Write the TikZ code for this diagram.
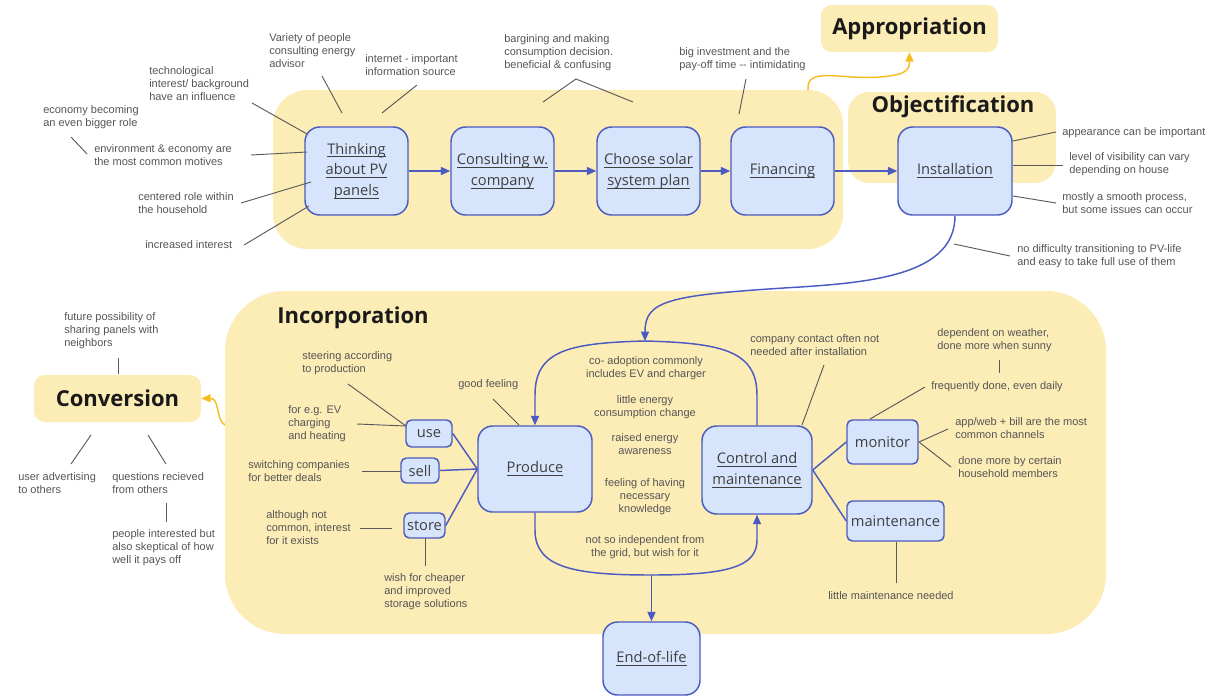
\documentclass[tikz,border=0pt]{standalone}
\usepackage{fontspec}
\setmainfont{Liberation Sans}
\newfontfamily\boxfont{Open Sans}
\usetikzlibrary{arrows.meta}

\definecolor{grpfill}{RGB}{252,236,182}
\definecolor{boxfill}{RGB}{214,228,252}
\definecolor{boxline}{RGB}{76,91,192}
\definecolor{boxtext}{RGB}{64,64,64}
\definecolor{hdrtext}{RGB}{26,26,26}
\definecolor{notetext}{RGB}{85,85,85}
\definecolor{noteline}{RGB}{90,90,90}
\definecolor{goldarrow}{RGB}{245,190,30}

% underlined stage label, rule slightly below the baseline
\newcommand{\lbl}[1]{\setbox0\hbox{#1}\leavevmode\rlap{\rule[-2.6pt]{\wd0}{0.75pt}}\box0}

\begin{document}
\begin{tikzpicture}[x=0.75pt,y=-0.75pt,
  sz/.style 2 args={minimum width=#1*0.75pt, minimum height=#2*0.75pt},
  grp/.style={fill=grpfill, draw=none, rounded corners=#1, inner sep=0pt},
  hdr/.style={font=\boxfont\bfseries\fontsize{16.5}{19}\selectfont, text=hdrtext, inner sep=0pt},
  stage/.style={draw=boxline, fill=boxfill, line width=1.1pt, rounded corners=11pt,
    align=center, font=\boxfont\fontsize{11}{15.6}\selectfont, text=boxtext, inner sep=0pt},
  sub/.style={stage, rounded corners=4pt},
  flow/.style={draw=boxline, line width=1.1pt, -{Triangle[length=7pt,width=6pt]}},
  plain/.style={draw=boxline, line width=1.1pt},
  gold/.style={draw=goldarrow, line width=1.1pt, -{Triangle[length=7pt,width=6pt]}},
  note/.style={font=\fontsize{8.25}{9.75}\selectfont, text=notetext, align=left, inner sep=0pt, anchor=west},
  mid/.style={note, align=center, anchor=center},
  lk/.style={draw=noteline, line width=0.7pt}]

\useasboundingbox (0,0) rectangle (1215,697);

% ---------- phase backgrounds ----------
\node[grp=26pt, sz={570}{159}] (initG) at (558,169.5) {};
\node[grp=16pt, sz={208}{91}] (objG) at (952,137.5) {};
\node[grp=45pt, sz={881}{343}] (incG) at (665.5,462.5) {};
\node[grp=8pt, sz={177}{47}, hdr] (appr) at (909.5,28.5) {Appropriation};
\node[grp=8pt, sz={167}{47}, hdr] (conv) at (117.5,398.5) {Conversion};
\node[hdr] (objT) at (953,107) {Objectification};
\node[hdr] (incT) at (353,318) {Incorporation};

% ---------- phase transitions ----------
\coordinate (apprStart) at (808,90);
\draw[gold] (apprStart) .. controls (806,66) and (840,80) .. (880,77)
  .. controls (906,75) and (909.5,70) .. (appr.south);
\coordinate (convStart) at (225,425);
\draw[gold] (convStart) .. controls (216,421) and (220,398) .. (conv.east);

% ---------- stages ----------
\node[stage, sz={103}{88}] (think) at (356.5,171) {\lbl{Thinking}\\\lbl{about PV}\\\lbl{panels}};
\node[stage, sz={103}{88}] (cons) at (502.5,171) {\lbl{Consulting w.}\\\lbl{company}};
\node[stage, sz={103}{88}] (choose) at (648.5,171) {\lbl{Choose solar}\\\lbl{system plan}};
\node[stage, sz={103}{88}] (fin) at (782.5,171) {\lbl{Financing}};
\node[stage, sz={114}{88}] (inst) at (955,171) {\lbl{Installation}};
\node[stage, sz={114}{86}] (prod) at (535,469) {\lbl{Produce}};
\node[stage, sz={110}{88}] (ctrl) at (757,470) {\lbl{Control and}\\\lbl{maintenance}};
\node[stage, sz={97}{73}] (eol) at (651.5,658.5) {\lbl{End-of-life}};

\node[sub, sz={46}{27}] (use) at (429,433.5) {use};
\node[sub, sz={38}{25}] (sell) at (420,470.5) {sell};
\node[sub, sz={41}{25}] (store) at (424.5,525.5) {store};
\node[sub, sz={71}{44}] (mon) at (882.5,442) {monitor};
\node[sub, sz={97}{40}] (maint) at (895.5,521) {maintenance};

% ---------- flow ----------
\draw[flow] (think) -- (cons);
\draw[flow] (cons) -- (choose);
\draw[flow] (choose) -- (fin);
\draw[flow] (fin) -- (inst);

\coordinate (loopTop) at (645,341);
\coordinate (loopBot) at (651.5,575);
\draw[flow] (inst.south) .. controls (955,272) and (880,282) .. (800,287)
  .. controls (668,295) and (645,300) .. (loopTop);
\draw[flow] (ctrl.north) -- (757,395) .. controls (757,350) and (720,343) .. (loopTop)
  .. controls (570,343) and (535,350) .. (535,395) -- (prod.north);
\draw[flow] (prod.south) -- (535,530) .. controls (535,568) and (575,575) .. (loopBot)
  .. controls (730,575) and (757,566) .. (757,540) -- (ctrl.south);
\draw[flow] (loopBot) -- (eol.north);

\draw[plain] (use.east) -- (prod.west);
\draw[plain] (sell.east) -- (prod.west);
\draw[plain] (store.east) -- (prod.west);
\draw[plain] (ctrl.east) -- (mon.west);
\draw[plain] (ctrl.east) -- (maint.west);

% ---------- notes: thinking about PV ----------
\node[note] (n1) at (269,51) {Variety of people\\consulting energy\\advisor};
\draw[lk] (322,76) -- (342,113);
\node[note] (n2) at (149,84) {technological\\interest/ background\\have an influence};
\draw[lk] (252,103) -- (307,134);
\node[note] (n3) at (365,65.5) {internet - important\\information source};
\draw[lk] (417,85) -- (382,113);
\node[note] (n4) at (43,117.5) {economy becoming\\an even bigger role};
\draw[lk] (71,137) -- (87,154);
\node[note] (n5) at (94,155) {environment \& economy are\\the most common motives};
\draw[lk] (251,155) -- (307,152);
\node[note] (n6) at (138,203.5) {centered role within\\the household};
\draw[lk] (241,203) -- (311,182);
\node[note] (n7) at (145,245) {increased interest};
\draw[lk] (244,245) -- (309,206);

% ---------- notes: consulting, plan, financing ----------
\node[note] (n8) at (504,52.5) {bargining and making\\consumption decision.\\beneficial \& confusing};
\draw[lk] (543,102) -- (576,79) -- (633,102);
\node[note] (n9) at (679,59.5) {big investment and the\\pay-off time -{}- intimidating};
\draw[lk] (746,79) -- (739,114);

% ---------- notes: installation ----------
\node[note] (n10) at (1062,133) {appearance can be important};
\draw[lk] (1013,141) -- (1056,132);
\node[note] (n11) at (1069,164.5) {level of visibility can vary\\depending on house};
\draw[lk] (1013,165) -- (1063,165);
\node[note] (n12) at (1062,203.5) {mostly a smooth process,\\but some issues can occur};
\draw[lk] (1013,196) -- (1056,203);
\node[note] (n13) at (1017,256.5) {no difficulty transitioning to PV-life\\and easy to take full use of them};
\draw[lk] (954,244) -- (1010,256);

% ---------- notes: conversion ----------
\node[note] (n14) at (64,331) {future possibility of\\sharing panels with\\neighbors};
\draw[lk] (118,358) -- (118,374);
\node[note] (n15) at (18,483.5) {user advertising\\to others};
\draw[lk] (91,435) -- (71,464);
\node[note] (n16) at (112,483.5) {questions recieved\\from others};
\draw[lk] (148,435) -- (166,464);
\node[note] (n17) at (112,548) {people interested but\\also skeptical of how\\well it pays off};
\draw[lk] (166,503) -- (166,522);

% ---------- notes: use / sell / store ----------
\node[note] (n18) at (302,363.5) {steering according\\to production};
\draw[lk] (348,384) -- (406,426);
\node[note] (n19) at (288,424) {for e.g. EV\\charging\\and heating};
\draw[lk] (357,424) -- (406,426);
\node[note] (n20) at (248,471.5) {switching companies\\for better deals};
\draw[lk] (362,471) -- (401,471);
\node[note] (n21) at (266,528) {although not\\common, interest\\for it exists};
\draw[lk] (360,528) -- (392,528);
\node[note] (n22) at (384,592) {wish for cheaper\\and improved\\storage solutions};
\draw[lk] (425,538) -- (425,566);

% ---------- notes: produce ----------
\node[note] (n23) at (458,385) {good feeling};
\draw[lk] (493,399) -- (519,425);
\node[mid] (n24) at (646,368) {co- adoption commonly\\includes EV and charger};
\node[mid] (n25) at (645,407) {little energy\\consumption change};
\node[mid] (n26) at (645,444) {raised energy\\awareness};
\node[mid] (n27) at (645,497) {feeling of having\\necessary\\knowledge};
\node[mid] (n28) at (645,547) {not so independent from\\the grid, but wish for it};

% ---------- notes: control and maintenance ----------
\node[note] (n29) at (750,345.5) {company contact often not\\needed after installation};
\draw[lk] (824,365) -- (802,425);
\node[note] (n30) at (937,340.5) {dependent on weather,\\done more when sunny};
\draw[lk] (999,360) -- (999,373);
\node[note] (n31) at (931,387) {frequently done, even daily};
\draw[lk] (925,387) -- (870,419);
\node[note] (n32) at (955,428.5) {app/web + bill are the most\\common channels};
\draw[lk] (948,429) -- (919,442);
\node[note] (n33) at (958,467.5) {done more by certain\\household members};
\draw[lk] (951,467) -- (919,442);
\node[note] (n34) at (828,596) {little maintenance needed};
\draw[lk] (896,542) -- (896,583);

\end{tikzpicture}
\end{document}
